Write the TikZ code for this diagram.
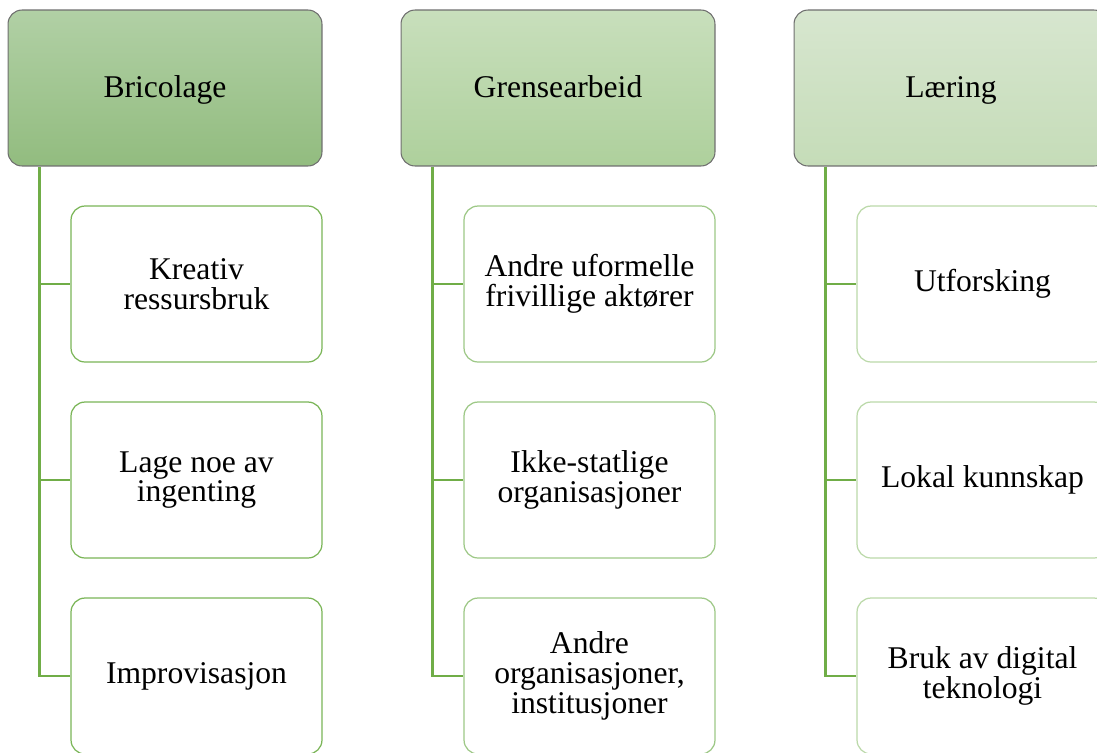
\documentclass[tikz,border=0pt]{standalone}
\usepackage{fontspec}
\setmainfont{Liberation Serif}
\usepackage{tikz}
\usetikzlibrary{positioning}

\definecolor{headline}{HTML}{6F6F6F}
\definecolor{linkgreen}{HTML}{70AD47}
\definecolor{brictop}{HTML}{B1D0A5}
\definecolor{bricbot}{HTML}{92BC7F}
\definecolor{grentop}{HTML}{C8DFBC}
\definecolor{grenbot}{HTML}{AED09C}
\definecolor{laertop}{HTML}{D7E6CF}
\definecolor{laerbot}{HTML}{C5DCB8}
\definecolor{bricleaf}{HTML}{7AB557}
\definecolor{grenleaf}{HTML}{9DC886}
\definecolor{laerleaf}{HTML}{BBD9A9}

\tikzset{
  head/.style={draw=headline, line width=0.6pt, rounded corners=0.28cm,
    minimum width=6.28cm, minimum height=3.12cm, align=flush center,
    text height=12pt, text depth=1pt,
    font=\fontsize{18}{17}\selectfont},
  leaf/.style={draw=#1, fill=white, line width=0.7pt, rounded corners=0.28cm,
    minimum width=5.02cm, minimum height=3.12cm, text width=4.7cm,
    align=flush center, font=\fontsize{18}{17}\selectfont},
  link/.style={draw=linkgreen, line width=1.4pt}
}

\begin{document}
\begin{tikzpicture}[x=0.02cm, y=-0.02cm]

\clip (0,0) rectangle (1097,752);
\useasboundingbox (0,0) rectangle (1097,752);

% headers
\node[head, top color=brictop, bottom color=bricbot] (bric) at (165,88) {Bricolage};
\node[head, top color=grentop, bottom color=grenbot] (gren) at (558,88) {Grensearbeid};
\node[head, top color=laertop, bottom color=laerbot] (laer) at (951,88) {Læring};

% Bricolage
\node[leaf=bricleaf] (bric1) at (196.5,284) {Kreativ\\ressursbruk};
\node[leaf=bricleaf] (bric2) at (196.5,480) {Lage noe av\\ingenting};
\node[leaf=bricleaf] (bric3) at (196.5,676) {Improvisasjon};

% Grensearbeid
\node[leaf=grenleaf] (gren1) at (589.5,284) {Andre uformelle\\frivillige aktører};
\node[leaf=grenleaf] (gren2) at (589.5,480) {Ikke-statlige\\organisasjoner};
\node[leaf=grenleaf] (gren3) at (589.5,676) {Andre\\organisasjoner,\\institusjoner};

% Læring
\node[leaf=laerleaf] (laer1) at (982.5,284) {Utforsking};
\node[leaf=laerleaf] (laer2) at (982.5,480) {Lokal kunnskap};
\node[leaf=laerleaf] (laer3) at (982.5,676) {Bruk av digital\\teknologi};

% connectors
\foreach \col in {bric,gren,laer}{
  \coordinate (\col trunk) at ([xshift=0.64cm]\col.south west);
  \foreach \i in {1,2,3}
    \draw[link] (\col trunk) |- (\col\i.west);
}

\end{tikzpicture}
\end{document}
